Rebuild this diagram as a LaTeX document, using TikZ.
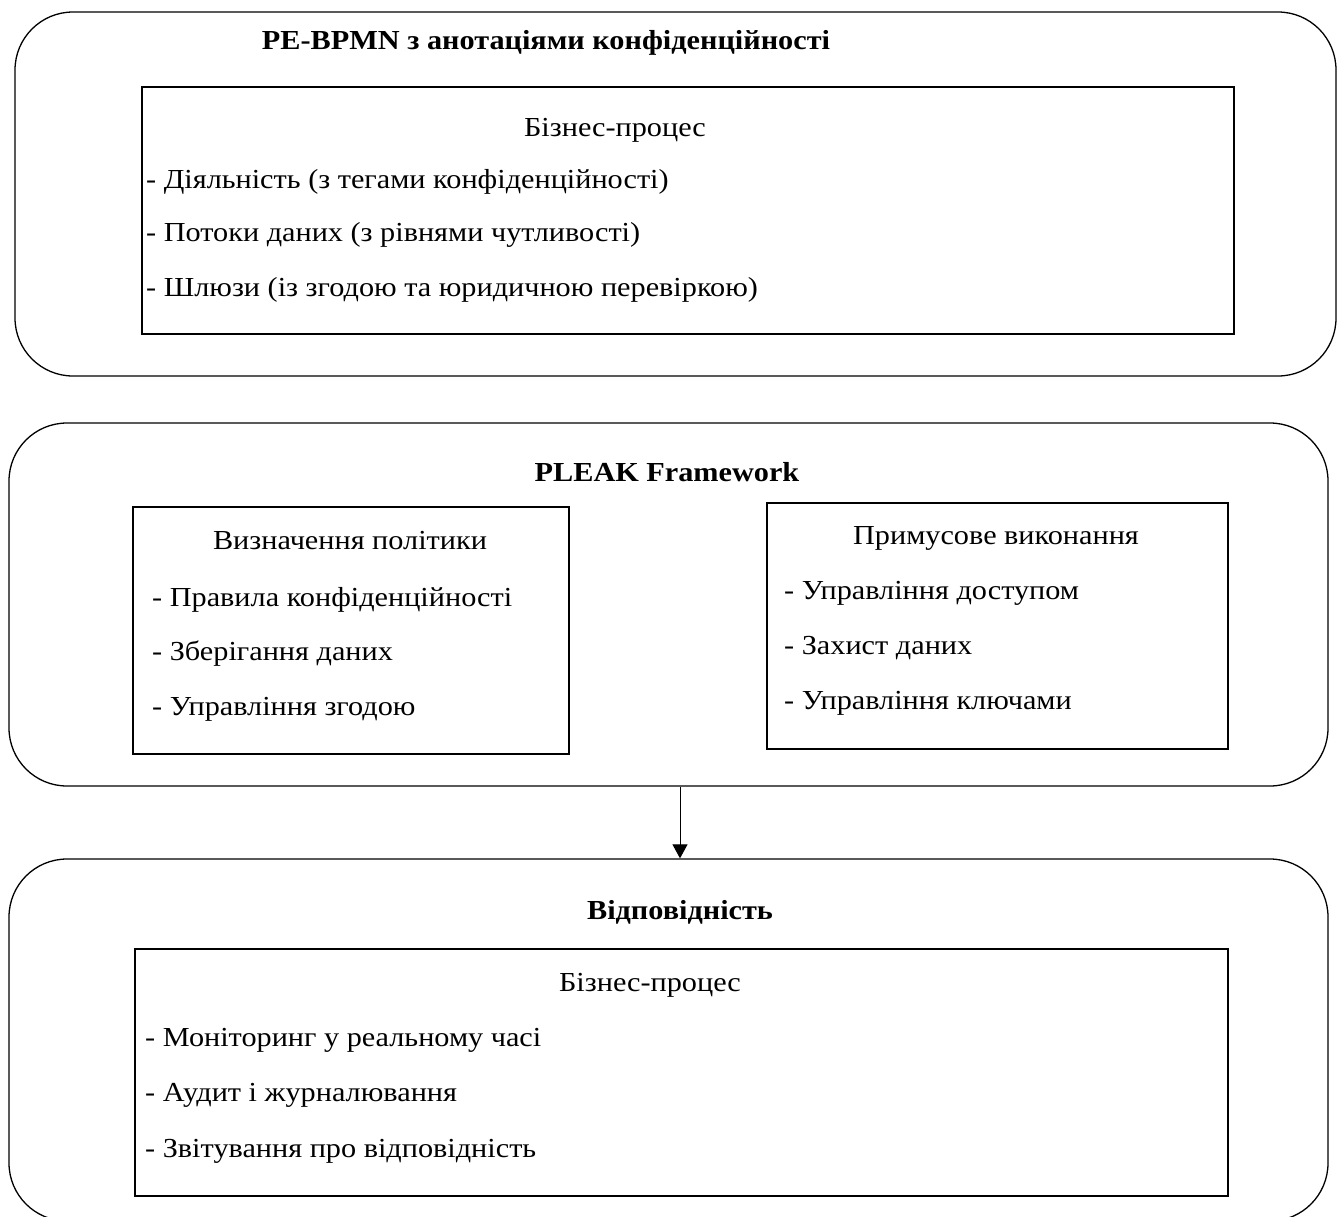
\documentclass[tikz,border=0pt]{standalone}
\usepackage{fontspec}
\setmainfont{Liberation Serif}[FakeStretch=1.1]
\usetikzlibrary{arrows.meta}
\begin{document}
\begin{tikzpicture}[x=1pt,y=-1pt,
  outerbox/.style={draw, line width=1.3pt, rounded corners=58pt, inner sep=0pt},
  innerbox/.style={draw, line width=1.5pt, inner sep=0pt},
  txt/.style={inner sep=0pt, font=\fontsize{27.5}{32}\selectfont},
  ttl/.style={inner sep=0pt, font=\fontsize{27.5}{32}\selectfont\bfseries, anchor=base},
  head/.style={txt, anchor=base},
  item/.style={txt, anchor=base west},
  arr/.style={line width=0.9pt, -{Triangle[width=15pt,length=14pt]}}
]
\useasboundingbox (0,0) rectangle (1343,1216);
% outer boxes
\node[outerbox, minimum width=1321pt, minimum height=364pt] (o1) at (675.5,194) {};
\node[outerbox, minimum width=1319pt, minimum height=363pt] (o2) at (668.5,604.5) {};
\node[outerbox, minimum width=1319pt, minimum height=362pt] (o3) at (668.5,1040) {};
% inner boxes
\node[innerbox, minimum width=1092pt, minimum height=247pt] (i1) at (688,210.5) {};
\node[innerbox, minimum width=436pt, minimum height=247pt] (i2a) at (351,630.5) {};
\node[innerbox, minimum width=461pt, minimum height=246pt] (i2b) at (997.5,626) {};
\node[innerbox, minimum width=1093pt, minimum height=247pt] (i3) at (681.5,1072.5) {};
% box 1 texts
\node[ttl] (t1) at (546,49) {PE-BPMN з анотаціями конфіденційності};
\node[head] (h1) at (615,136) {Бізнес-процес};
\node[item] (a1) at (146,188) {- Діяльність (з тегами конфіденційності)};
\node[item] (a2) at (146,241) {- Потоки даних (з рівнями чутливості)};
\node[item] (a3) at (146,296) {- Шлюзи (із згодою та юридичною перевіркою)};
% box 2 texts
\node[ttl] (t2) at (667,481) {PLEAK Framework};
\node[head] (h2a) at (350,549) {Визначення політики};
\node[item] (b1) at (152,606) {- Правила конфіденційності};
\node[item] (b2) at (152,660) {- Зберігання даних};
\node[item] (b3) at (152,715) {- Управління згодою};
\node[head] (h2b) at (996,544) {Примусове виконання};
\node[item] (c1) at (784,599) {- Управління доступом};
\node[item] (c2) at (784,654) {- Захист даних};
\node[item] (c3) at (784,709) {- Управління ключами};
% box 3 texts
\node[ttl] (t3) at (680,919) {Відповідність};
\node[head] (h3) at (650,991) {Бізнес-процес};
\node[item] (d1) at (145,1046) {- Моніторинг у реальному часі};
\node[item] (d2) at (145,1101) {- Аудит і журналювання};
\node[item] (d3) at (145,1157) {- Звітування про відповідність};
% connector
\coordinate (ax) at (680,0);
\draw[arr] (o2.south -| ax) -- (o3.north -| ax);
\end{tikzpicture}
\end{document}
